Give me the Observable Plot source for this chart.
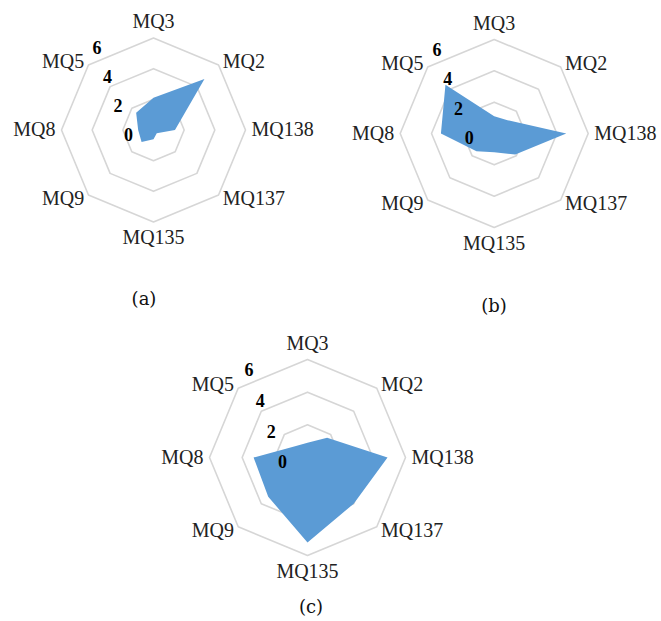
<!DOCTYPE html>
<html>
<head>
<meta charset="utf-8">
<script src="https://cdn.jsdelivr.net/npm/d3@7"></script>
<script src="https://cdn.jsdelivr.net/npm/@observablehq/plot@0.6"></script>
<style>
  html, body { margin: 0; padding: 0; background: #ffffff; }
  #wrap { position: relative; width: 661px; height: 621px; overflow: hidden; background: #ffffff; }
  .panel { position: absolute; }
  .caption { position: absolute; font-family: "DejaVu Serif", "Liberation Serif", serif; font-size: 18px; color: #111; transform: translate(-50%, -50%); white-space: nowrap; }
</style>
</head>
<body>
<div id="wrap"></div>
<script>
// ---- data ----
const categories = ["MQ3", "MQ2", "MQ138", "MQ137", "MQ135", "MQ9", "MQ8", "MQ5"];
const valuesA = [2.1, 4.7, 1.4, 0.3, 0.6, 1.1, 1.0, 1.6];
const valuesB = [1.1, 1.2, 4.6, 1.9, 1.2, 1.6, 3.4, 4.4];
const valuesC = [0.9, 1.7, 4.9, 4.0, 5.2, 3.4, 3.3, 1.0];
const ringValues = [2, 4, 6];
const tickValues = [0, 2, 4, 6];
const tickLabels = ["0", "2", "4", "6"];
const panelLabels = ["(a)", "(b)", "(c)"];

// ---- layout (pixels) ----
const panels = [
  {values: valuesA, left: 0,   top: 0,   w: 330, h: 262, cx: 153,   cy: 129.5, R: 92, capX: 144, capY: 298},
  {values: valuesB, left: 330, top: 0,   w: 331, h: 270, cx: 163.7, cy: 133,   R: 94, capX: 494, capY: 305},
  {values: valuesC, left: 140, top: 330, w: 380, h: 255, cx: 167,   cy: 127,   R: 98, capX: 311, capY: 606}
];

const maxValue = 6;
const n = categories.length;
const angle = i => (2 * Math.PI * i) / n; // 0 = top, clockwise
const tilt = 20 * Math.PI / 180;
const serif = "'Liberation Serif', 'Times New Roman', serif";

const wrap = document.getElementById("wrap");

panels.forEach((p, k) => {
  const u = p.R / maxValue; // px per unit
  const xDomain = [-p.cx / u, (p.w - p.cx) / u];
  const yDomain = [-(p.h - p.cy) / u, p.cy / u];

  const polar = (v, i) => ({x: v * Math.sin(angle(i)), y: v * Math.cos(angle(i))});

  const grid = ringValues.flatMap(r => categories.map((c, i) => ({ring: r, ...polar(r, i)})));
  const series = categories.map((c, i) => ({cat: c, value: p.values[i], ...polar(p.values[i], i)}));
  const labelPts = categories.map((c, i) => ({cat: c, i, ...polar(maxValue, i)}));
  const ticks = tickValues.map((v, j) => ({label: tickLabels[j], x: -v * Math.sin(tilt), y: v * Math.cos(tilt)}));

  const labelMarks = labelPts.map(d => {
    const ax = Math.sin(angle(d.i)), ay = Math.cos(angle(d.i));
    const vertical = Math.abs(ax) < 0.01;
    return Plot.text([d], {
      x: "x", y: "y", text: "cat",
      textAnchor: vertical ? "middle" : (ax > 0 ? "start" : "end"),
      dx: vertical ? 0 : ax * 6,
      dy: vertical ? -ay * 16 : -ay * 5,
      fontSize: 20,
      fontFamily: serif,
      fill: "#222"
    });
  });

  const chart = Plot.plot({
    width: p.w,
    height: p.h,
    margin: 0,
    x: {domain: xDomain, axis: null},
    y: {domain: yDomain, axis: null},
    style: {fontFamily: serif, background: "transparent", overflow: "visible"},
    marks: [
      Plot.line(grid, {x: "x", y: "y", z: "ring", curve: "linear-closed", stroke: "#d6d6d6", strokeWidth: 1.6}),
      Plot.line(series, {x: "x", y: "y", curve: "linear-closed", fill: "#5b9bd5", stroke: "none"}),
      ...labelMarks,
      Plot.text(ticks, {x: "x", y: "y", text: "label", dx: -25, dy: 5, fontSize: 18, fontWeight: "bold", fontFamily: serif, fill: "#000"})
    ]
  });
  chart.classList.add("panel");
  chart.style.left = p.left + "px";
  chart.style.top = p.top + "px";
  wrap.appendChild(chart);

  const cap = document.createElement("div");
  cap.className = "caption";
  cap.textContent = panelLabels[k];
  cap.style.left = p.capX + "px";
  cap.style.top = p.capY + "px";
  wrap.appendChild(cap);
});
</script>
</body>
</html>
